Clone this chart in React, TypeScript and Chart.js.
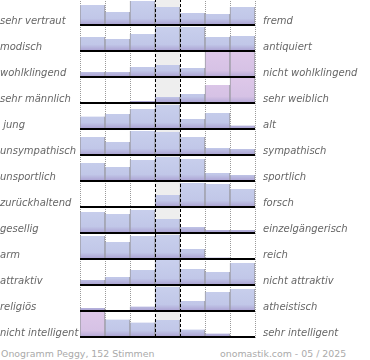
import { useEffect, useRef } from 'react';
import { Chart, registerables } from 'chart.js';

Chart.register(...registerables);

const columns = ['1', '2', '3', '4', '5', '6', '7'];

const leftLabels = [
  'sehr vertraut', 'modisch', 'wohlklingend', 'sehr männlich', ' jung', 'unsympathisch',
  'unsportlich', 'zurückhaltend', 'gesellig', 'arm', 'attraktiv', 'religiös', 'nicht intelligent',
];
const rightLabels = [
  'fremd', 'antiquiert', 'nicht wohlklingend', 'sehr weiblich', 'alt', 'sympathisch',
  'sportlich', 'forsch', 'einzelgängerisch', 'reich', 'nicht attraktiv', 'atheistisch', 'sehr intelligent',
];

// bar heights per row (row full height = 26)
const vertraut = [20, 13, 24, 18, 12, 11, 18];
const modisch = [14, 12, 17, 24, 24, 14, 15];
const wohlklingend = [5, 5, 10, 12, 9, 25, 25];
const maennlich = [0, 0, 2, 6, 9, 18, 25];
const jung = [12.5, 15, 20, 24, 10, 16, 3.5];
const unsympathisch = [18, 13, 24, 23, 18, 7, 6];
const unsportlich = [18, 14, 21, 24, 22, 8, 6];
const zurueckhaltend = [1, 1, 1, 12, 24, 23, 18];
const gesellig = [21, 19, 23, 14, 6, 3, 3];
const arm = [23, 17, 23, 24, 10, 1.5, 0.5];
const attraktiv = [5, 8, 15, 25, 16, 13, 22];
const religioes = [3, 0, 4.5, 24, 10, 19, 22];
const intelligent = [25, 17.5, 14.5, 17, 7.5, 3.5, 0];

const rowValues = [
  vertraut, modisch, wohlklingend, maennlich, jung, unsympathisch, unsportlich,
  zurueckhaltend, gesellig, arm, attraktiv, religioes, intelligent,
];

// [row, column] cells drawn in pink
const pinkCells = [[2, 5], [2, 6], [3, 5], [3, 6], [12, 0]];

const ROW = 26;
const ROWS = 13;
const TOP = ROW * ROWS;
const centerColumn = [null, null, null, [0, TOP], null, null, null];

const baseOf = (row: number) => (ROWS - 1 - row) * ROW;

const makeFill = (row: number) => (ctx: any) => {
  const chart = ctx.chart;
  const y = chart.scales && chart.scales.y;
  if (!y || !chart.chartArea) return '#c4cbe9';
  const base = baseOf(row);
  const pTop = y.getPixelForValue(base + ROW);
  const pBot = y.getPixelForValue(base);
  const pink = pinkCells.some(([r, c]) => r === row && c === ctx.dataIndex);
  const g = chart.ctx.createLinearGradient(0, pTop, 0, pBot);
  if (pink) {
    g.addColorStop(0, '#dec8e9');
    g.addColorStop(0.75, '#d6c2e5');
    g.addColorStop(1, '#b4a8d6');
  } else {
    g.addColorStop(0, '#c9d0ed');
    g.addColorStop(0.75, '#c1c7e8');
    g.addColorStop(1, '#aaa0d1');
  }
  return g;
};

const labelFont = { family: 'DejaVu Sans', size: 10, style: 'italic' as const };

export default function App() {
  const ref = useRef<HTMLCanvasElement>(null);

  useEffect(() => {
    const rowDatasets = rowValues.map((vals, row) => ({
      label: leftLabels[row],
      data: vals.map((v) => [baseOf(row), baseOf(row) + v]),
      backgroundColor: makeFill(row),
      borderColor: '#9a9aa2',
      borderWidth: { left: 1, right: 1, top: 0, bottom: 0 },
      borderSkipped: false,
      barPercentage: 1,
      categoryPercentage: 1,
      grouped: false,
      order: 1,
    }));

    const zeroPad = (s: any) => {
      s.paddingTop = 0;
      s.paddingBottom = 0;
      s.paddingLeft = 0;
      s.paddingRight = 0;
    };

    const chart = new Chart(ref.current as HTMLCanvasElement, {
      type: 'bar',
      data: {
        labels: columns,
        datasets: [
          {
            label: 'center',
            data: centerColumn as any,
            backgroundColor: '#eeeeee',
            borderWidth: 0,
            barPercentage: 1,
            categoryPercentage: 1,
            grouped: false,
            order: 10,
          } as any,
          ...(rowDatasets as any),
        ],
      },
      options: {
        animation: false,
        responsive: false,
        maintainAspectRatio: false,
        devicePixelRatio: 1,
        layout: { padding: 0 },
        plugins: { legend: { display: false }, tooltip: { enabled: false } },
        scales: {
          x: {
            type: 'category',
            offset: true,
            grid: {
              offset: true,
              drawTicks: false,
              lineWidth: 1,
              z: -1,
              color: (c: any) => (c.index === 3 || c.index === 4 ? 'rgba(0,0,0,0)' : '#9a9a9a'),
              borderDash: [1, 1],
            } as any,
            border: { display: false, dash: [1, 1] },
            ticks: { display: false },
            afterFit: (s: any) => { s.height = 0; zeroPad(s); },
          },
          x2: {
            type: 'category',
            position: 'bottom',
            offset: true,
            grid: {
              offset: true,
              drawTicks: false,
              lineWidth: 1,
              z: 2,
              color: (c: any) => (c.index === 3 || c.index === 4 ? '#000000' : 'rgba(0,0,0,0)'),
              borderDash: [3, 2],
            } as any,
            border: { display: false, dash: [3, 2] },
            ticks: { display: false },
            afterFit: (s: any) => { s.height = 0; zeroPad(s); },
          },
          y: {
            type: 'linear',
            position: 'left',
            min: -1,
            max: TOP,
            grid: { display: false, drawTicks: false },
            border: { display: false },
            afterBuildTicks: (a: any) => {
              a.ticks = leftLabels.map((_, i) => ({ value: baseOf(i) + 3.5 }));
            },
            ticks: {
              autoSkip: false,
              crossAlign: 'far',
              padding: 0,
              color: '#666666',
              font: labelFont,
              callback: (_v: any, i: number) => leftLabels[i],
            },
            afterFit: (s: any) => { s.width = 80; zeroPad(s); },
          },
          y2: {
            type: 'linear',
            position: 'right',
            min: -1,
            max: TOP,
            grid: { display: false, drawTicks: false },
            border: { display: false },
            afterBuildTicks: (a: any) => {
              a.ticks = rightLabels.map((_, i) => ({ value: baseOf(i) + 3.5 }));
            },
            ticks: {
              autoSkip: false,
              crossAlign: 'near',
              padding: 8,
              color: '#666666',
              font: labelFont,
              callback: (_v: any, i: number) => rightLabels[i],
            },
            afterFit: (s: any) => { s.width = 115; zeroPad(s); },
          },
          yg: {
            type: 'linear',
            position: 'left',
            min: -1,
            max: TOP,
            grid: { color: '#000000', lineWidth: 2, drawTicks: false, z: 1 },
            border: { display: false },
            afterBuildTicks: (a: any) => {
              a.ticks = leftLabels.map((_, i) => ({ value: baseOf(i) }));
            },
            ticks: { display: false },
            afterFit: (s: any) => { s.width = 0; zeroPad(s); },
          },
        },
      } as any,
    });
    return () => chart.destroy();
  }, []);

  const footer = {
    position: 'absolute' as const,
    top: 348.5,
    fontFamily: '"DejaVu Sans"',
    fontSize: '9.4px',
    lineHeight: '10px',
    color: '#aaaaaa',
    whiteSpace: 'nowrap' as const,
  };

  return (
    <div style={{ position: 'absolute', left: 0, top: 0, width: 370, height: 360, overflow: 'hidden' }}>
      <canvas
        ref={ref}
        width={370}
        height={339}
        style={{ position: 'absolute', left: 0, top: -1, width: 370, height: 339 }}
      />
      <div style={{ ...footer, left: 1 }}>Onogramm Peggy, 152 Stimmen</div>
      <div style={{ ...footer, left: 220 }}>onomastik.com - 05 / 2025</div>
    </div>
  );
}
